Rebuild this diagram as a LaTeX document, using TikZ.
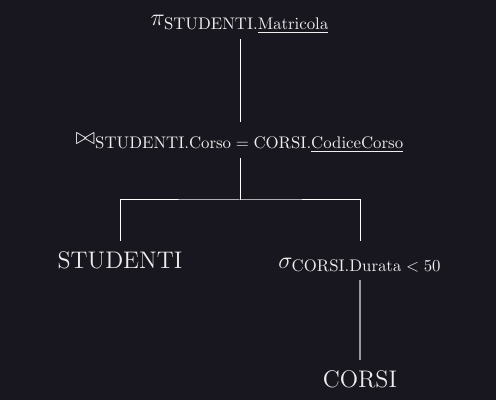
\RequirePackage{fix-cm}
\documentclass[tikz,border=0pt]{standalone}
\usepackage{graphicx}
\definecolor{bg}{HTML}{18161E}
\definecolor{fg}{HTML}{EEEEEE}
\definecolor{dimline}{HTML}{9A9A9A}
\newcommand\subtxt[1]{\scalebox{0.84}{\fontsize{10}{12}\selectfont$#1$}}
\begin{document}
\begin{tikzpicture}[x=0.5pt,y=-0.5pt,
  every node/.style={font=\fontsize{12}{14}\selectfont, text=fg, inner sep=0pt, outer sep=0pt},
  edge/.style={draw=white, line width=0.5pt},
  dimedge/.style={draw=dimline, line width=1pt}]
\fill[bg] (0,0) rectangle (496,400);
\useasboundingbox (0,0) rectangle (496,400);
\node[anchor=base] (pi) at (240,26) {$\pi_{\subtxt{\mathrm{STUDENTI}.\underline{\mathrm{Matricola}}}}$};
\node[anchor=base] (join) at (240,145) {$\bowtie_{\subtxt{\mathrm{STUDENTI}.\mathrm{Corso}=\mathrm{CORSI}.\underline{\mathrm{CodiceCorso}}}}$};
\node[anchor=base] (stud) at (120,268) {$\mathrm{STUDENTI}$};
\node[anchor=base] (sig) at (360,268) {$\sigma_{\subtxt{\mathrm{CORSI}.\mathrm{Durata}<50}}$};
\node[anchor=base] (corsi) at (360,387) {$\mathrm{CORSI}$};
\coordinate (fork) at (240,200);
\draw[edge] ([yshift=-3pt]pi.south) -- ([yshift=6pt]join.north);
\draw[edge] ([yshift=-3pt]join.south) -- (fork);
\draw[edge] ([yshift=5.5pt]stud.north) |- (fork) -| ([yshift=8.5pt]sig.north);
\draw[dimedge] ([yshift=-4pt]sig.south) -- ([yshift=5.3pt]corsi.north);
\end{tikzpicture}
\end{document}
